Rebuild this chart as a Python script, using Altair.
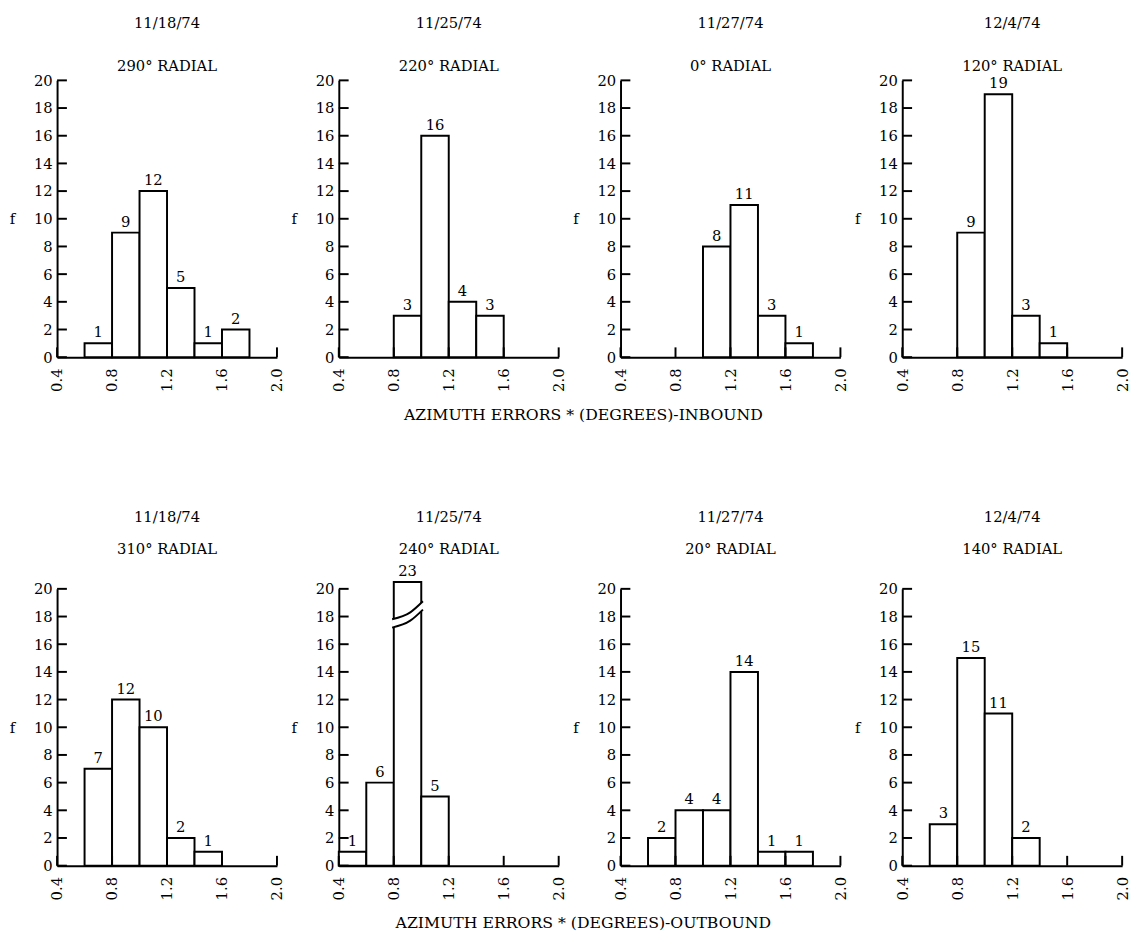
import altair as alt
import pandas as pd

SERIF = "DejaVu Serif"
W, H = 224, 282

DATES = ["11/18/74", "11/25/74", "11/27/74", "12/4/74",
         "11/18/74", "11/25/74", "11/27/74", "12/4/74"]
RADIALS = ["290°", "220°", "0°", "120°", "310°", "240°", "20°", "140°"]

P1_BINS = [0.6, 0.8, 1.0, 1.2, 1.4, 1.6]
P1_COUNTS = [1, 9, 12, 5, 1, 2]
P2_BINS = [0.8, 1.0, 1.2, 1.4]
P2_COUNTS = [3, 16, 4, 3]
P3_BINS = [1.0, 1.2, 1.4, 1.6]
P3_COUNTS = [8, 11, 3, 1]
P4_BINS = [0.8, 1.0, 1.2, 1.4]
P4_COUNTS = [9, 19, 3, 1]
P5_BINS = [0.6, 0.8, 1.0, 1.2, 1.4]
P5_COUNTS = [7, 12, 10, 2, 1]
P6_BINS = [0.4, 0.6, 0.8, 1.0]
P6_COUNTS = [1, 6, 23, 5]
P7_BINS = [0.6, 0.8, 1.0, 1.2, 1.4, 1.6]
P7_COUNTS = [2, 4, 4, 14, 1, 1]
P8_BINS = [0.6, 0.8, 1.0, 1.2]
P8_COUNTS = [3, 15, 11, 2]

BINS = [P1_BINS, P2_BINS, P3_BINS, P4_BINS, P5_BINS, P6_BINS, P7_BINS, P8_BINS]
COUNTS = [P1_COUNTS, P2_COUNTS, P3_COUNTS, P4_COUNTS,
          P5_COUNTS, P6_COUNTS, P7_COUNTS, P8_COUNTS]

X_TICKS = [0.4, 0.8, 1.2, 1.6, 2.0]
Y_TICKS = [0, 2, 4, 6, 8, 10, 12, 14, 16, 18, 20]
ROW_TITLES = ["AZIMUTH ERRORS * (DEGREES)-INBOUND",
              "AZIMUTH ERRORS * (DEGREES)-OUTBOUND"]
BIN_WIDTH = 0.2
AXIS_MAX = 20
BREAK_AT = 17.2

XS = alt.Scale(domain=[0.4, 2.0], nice=False, zero=False)
YS = alt.Scale(domain=[0, AXIS_MAX], nice=False, zero=True)
XAXIS = alt.Axis(values=X_TICKS, format=".1f", labelAngle=270, ticks=False,
                 tickSize=0, labelPadding=11, title=None, grid=False,
                 domainWidth=2, domainColor="black", labelFont=SERIF,
                 labelFontSize=15, labelColor="black")
YAXIS = alt.Axis(values=Y_TICKS, ticks=False, tickSize=0, labelPadding=5,
                 title="f", titleAngle=0, titleX=-46, titleY=H / 2,
                 titleAlign="center", titleBaseline="middle",
                 titleFont=SERIF, titleFontSize=15,
                 titleFontWeight="normal", titleColor="black",
                 grid=False, domainWidth=2, domainColor="black",
                 labelFont=SERIF, labelFontSize=15, labelColor="black")


def X(field):
    return alt.X(field, scale=XS, axis=XAXIS)


def Y(field):
    return alt.Y(field, scale=YS, axis=YAXIS)


def panel(i, row):
    df = pd.DataFrame({"start": BINS[i], "count": COUNTS[i]})
    df["end"] = df["start"] + BIN_WIDTH
    df["mid"] = df["start"] + BIN_WIDTH / 2
    df["shown"] = df["count"].clip(upper=AXIS_MAX + 0.5)

    bars = alt.Chart(df).mark_rect(fill="white", stroke="black",
                                   strokeWidth=2).encode(
        x=X("start:Q"), x2="end:Q", y=Y("shown:Q"), y2=alt.datum(0))
    labels = alt.Chart(df).mark_text(font=SERIF, fontSize=15, fill="black",
                                     baseline="bottom", dy=-3).encode(
        x=X("mid:Q"), y=Y("shown:Q"), text="count:Q")
    yt = alt.Chart(pd.DataFrame({"v": Y_TICKS})).mark_rule(
        strokeWidth=2, color="black").encode(
        y=Y("v:Q"), x=alt.value(0), x2=alt.value(10))
    xt = alt.Chart(pd.DataFrame({"v": X_TICKS})).mark_rule(
        strokeWidth=2, color="black").encode(
        x=X("v:Q"), y=alt.value(H), y2=alt.value(H - 10))

    layers = [bars, xt, yt, labels]

    broken = df[df["count"] > AXIS_MAX]
    if len(broken):
        recs = []
        for _, r in broken.iterrows():
            xs_pts = [r["start"] - 0.012, r["start"] + 0.12, r["end"] + 0.012]
            lows = [BREAK_AT, BREAK_AT + 0.5, BREAK_AT + 1.3]
            for xp, lo in zip(xs_pts, lows):
                recs.append({"bx": xp, "lo": lo, "hi": lo + 0.6})
        bbase = alt.Chart(pd.DataFrame(recs))
        gap = bbase.mark_area(color="white", interpolate="monotone").encode(
            x=X("bx:Q"), y=Y("lo:Q"), y2="hi:Q")
        l1 = bbase.mark_line(color="black", strokeWidth=2,
                             interpolate="monotone").encode(
            x=X("bx:Q"), y=Y("lo:Q"))
        l2 = bbase.mark_line(color="black", strokeWidth=2,
                             interpolate="monotone").encode(
            x=X("bx:Q"), y=Y("hi:Q"))
        layers += [gap, l1, l2]

    if row == 0:
        date_y, rad_y = -58, -15
    else:
        date_y, rad_y = -73, -40
    tdf = pd.DataFrame({"date": [DATES[i]], "radial": [f"{RADIALS[i]} RADIAL"]})
    tbase = alt.Chart(tdf)
    t1 = tbase.mark_text(font=SERIF, fontSize=15, fill="black",
                         baseline="middle", align="center").encode(
        x=alt.value(W / 2), y=alt.value(date_y), text="date:N")
    t2 = tbase.mark_text(font=SERIF, fontSize=15, fill="black",
                         baseline="middle", align="center").encode(
        x=alt.value(W / 2), y=alt.value(rad_y), text="radial:N")
    layers += [t1, t2]
    return alt.layer(*layers).properties(width=W, height=H)


ROW_TITLE_OFFSETS = [16, 16]
rows = []
for r in range(2):
    panels = [panel(r * 4 + c, r) for c in range(4)]
    rows.append(alt.hconcat(*panels, spacing=6).properties(
        title=alt.TitleParams(ROW_TITLES[r], orient="bottom", anchor="middle",
                              font=SERIF, fontSize=16, fontWeight="normal",
                              color="black", offset=ROW_TITLE_OFFSETS[r],
                              dx=14)))

chart = alt.vconcat(*rows, spacing=89).properties(
    padding={"left": 1, "top": 0, "right": 0, "bottom": 0},
    background="white",
).configure_view(stroke=None)

chart.save("out.html", embed_options={"renderer": "svg", "actions": False})
